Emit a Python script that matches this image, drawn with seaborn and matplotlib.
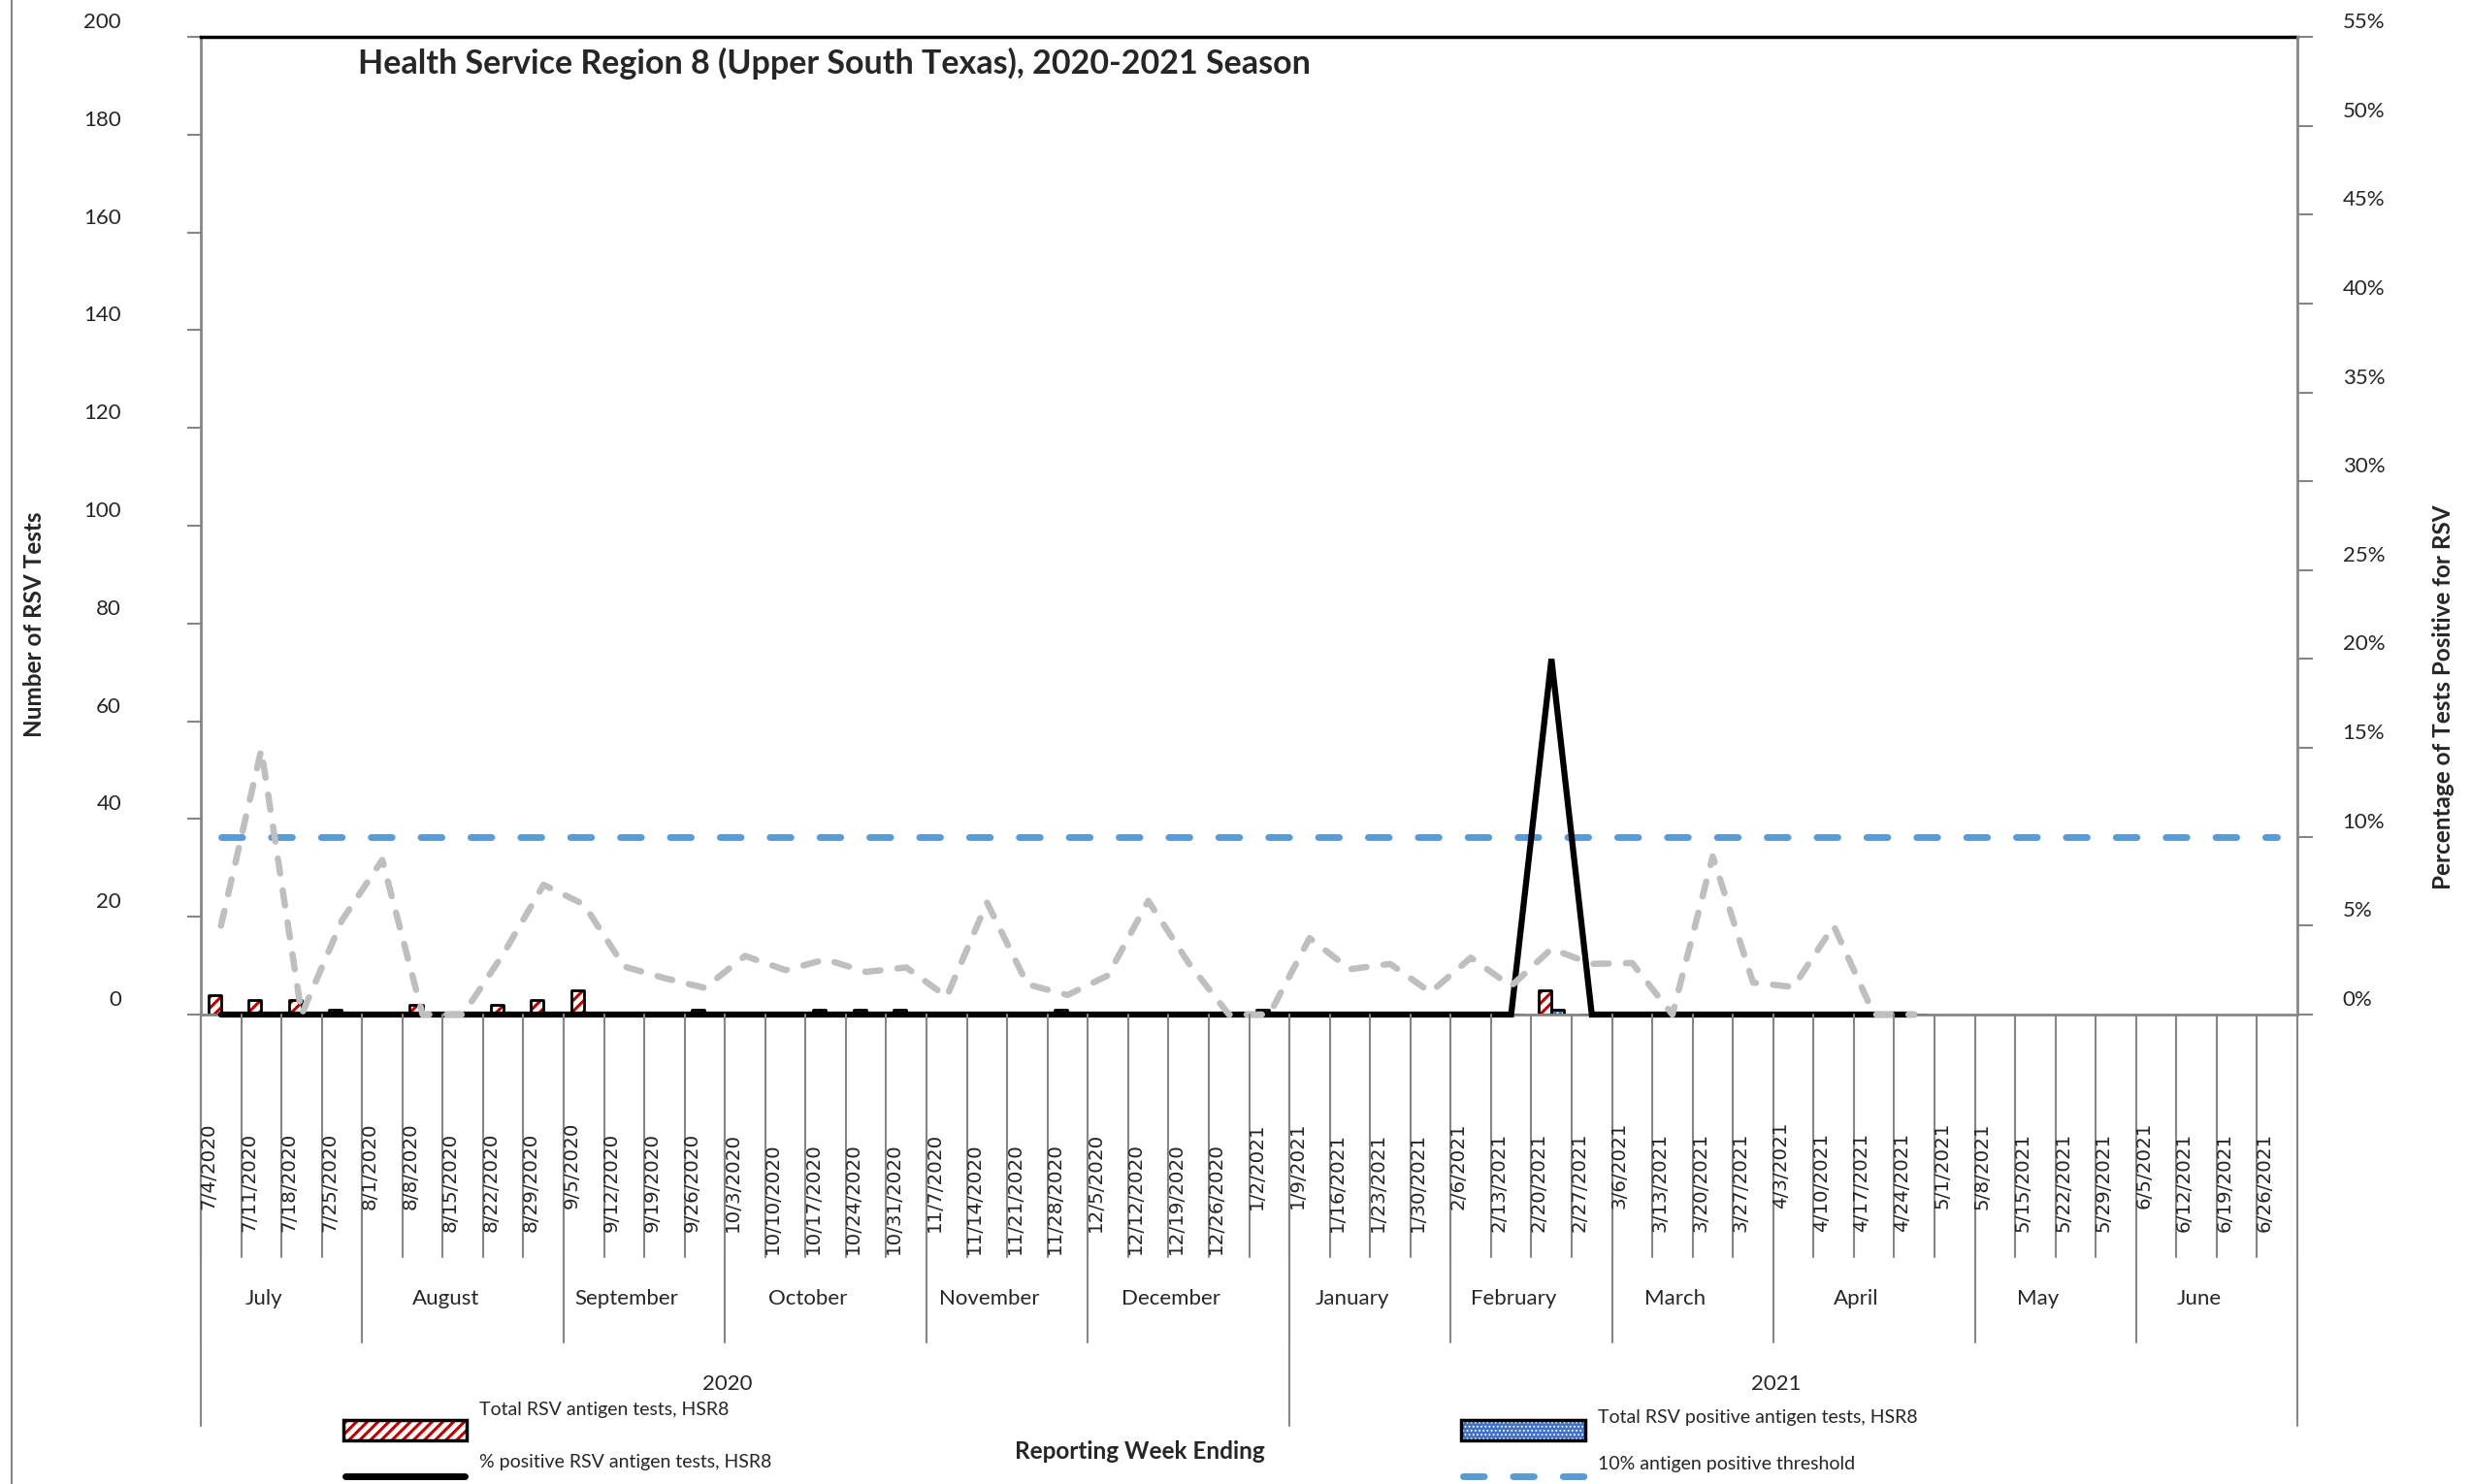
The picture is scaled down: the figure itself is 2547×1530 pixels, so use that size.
import matplotlib
matplotlib.use('Agg')
import matplotlib.pyplot as plt
import matplotlib.transforms as mtransforms
from matplotlib.patches import Rectangle
from matplotlib.lines import Line2D
import seaborn as sns
import pandas as pd

# --- data ---
weeks = ['7/4/2020', '7/11/2020', '7/18/2020', '7/25/2020', '8/1/2020', '8/8/2020',
         '8/15/2020', '8/22/2020', '8/29/2020', '9/5/2020', '9/12/2020', '9/19/2020',
         '9/26/2020', '10/3/2020', '10/10/2020', '10/17/2020', '10/24/2020', '10/31/2020',
         '11/7/2020', '11/14/2020', '11/21/2020', '11/28/2020', '12/5/2020', '12/12/2020',
         '12/19/2020', '12/26/2020', '1/2/2021', '1/9/2021', '1/16/2021', '1/23/2021',
         '1/30/2021', '2/6/2021', '2/13/2021', '2/20/2021', '2/27/2021', '3/6/2021',
         '3/13/2021', '3/20/2021', '3/27/2021', '4/3/2021', '4/10/2021', '4/17/2021',
         '4/24/2021', '5/1/2021', '5/8/2021', '5/15/2021', '5/22/2021', '5/29/2021',
         '6/5/2021', '6/12/2021', '6/19/2021', '6/26/2021']

months = ['July', 'August', 'September', 'October', 'November', 'December',
          'January', 'February', 'March', 'April', 'May', 'June']
month_weeks = [4, 5, 4, 5, 4, 5, 4, 4, 4, 5, 4, 4]
years = ['2020', '2021']
year_weeks = [27, 25]

# weeks reported so far (7/4/2020 - 4/24/2021)
total_tests = [4, 3, 3, 1, 0, 2, 0, 2, 3, 5, 0, 0, 1, 0, 0, 1, 1, 1, 0, 0, 0, 1,
               0, 0, 0, 0, 1, 0, 0, 0, 0, 0, 0, 5, 0, 0, 0, 0, 0, 0, 0, 0, 0]
positive_tests = [0, 0, 0, 0, 0, 0, 0, 0, 0, 0, 0, 0, 0, 0, 0, 0, 0, 0, 0, 0, 0, 0,
                  0, 0, 0, 0, 0, 0, 0, 0, 0, 0, 0, 1, 0, 0, 0, 0, 0, 0, 0, 0, 0]
pct_positive = [0, 0, 0, 0, 0, 0, 0, 0, 0, 0, 0, 0, 0, 0, 0, 0, 0, 0, 0, 0, 0, 0,
                0, 0, 0, 0, 0, 0, 0, 0, 0, 0, 0, 20, 0, 0, 0, 0, 0, 0, 0, 0, 0]
pct_gray = [5.0, 14.9, 0, 5.3, 8.7, 0, 0, 3.4, 7.3, 6.2, 2.7, 2.05, 1.5, 3.3, 2.5,
            3.1, 2.4, 2.65, 1.0, 6.3, 1.7, 1.1, 2.2, 6.4, 2.9, 0, 0, 4.3, 2.55, 2.85,
            1.25, 3.2, 1.6, 3.7, 2.85, 2.9, 0, 8.9, 1.8, 1.55, 5.0, 0, 0]
threshold = 10

left_ticks = [0, 20, 40, 60, 80, 100, 120, 140, 160, 180, 200]
right_ticks = [0, 5, 10, 15, 20, 25, 30, 35, 40, 45, 50, 55]

lab_total = 'Total RSV antigen tests, HSR8'
lab_pos = 'Total RSV positive antigen tests, HSR8'
lab_pct = '% positive RSV antigen tests, HSR8'
lab_thr = '10% antigen positive threshold'

RED = '#C00000'
BLUE = '#4472C4'
THR = '#5B9BD5'
GRAY = '#BFBFBF'
AXGRAY = '#868686'

sns.set_style('white')
plt.rcParams['font.family'] = ['Lato', 'DejaVu Sans']
plt.rcParams['hatch.linewidth'] = 2.2

W, H = 2547, 1530
fig = plt.figure(figsize=(W / 100, H / 100), dpi=100)


def fx(px):
    return px / W


def fy(px):
    return 1 - px / H


def thin_dots(patch):
    # the blue fill only has small white dots
    if hasattr(patch, 'set_hatch_linewidth'):
        patch.set_hatch_linewidth(0.8)


ax = fig.add_axes([fx(207), fy(1046), fx(2368) - fx(207), fy(38) - fy(1046)])

n = len(total_tests)
df = pd.DataFrame({
    'week': weeks[:n] * 2,
    'count': total_tests + positive_tests,
    'series': [lab_total] * n + [lab_pos] * n,
})
sns.barplot(data=df, x='week', y='count', hue='series', order=weeks,
            hue_order=[lab_total, lab_pos], palette=['white', BLUE], saturation=1,
            width=0.63, gap=0, errorbar=None, legend=False, ax=ax)

# hatch fills + black outlines like the Excel bars
for cont, face, hatch, hcol in [(ax.containers[0], 'white', '///', RED),
                                (ax.containers[1], BLUE, '...', 'white')]:
    for bar in cont:
        bar.set(facecolor=face, hatch=hatch, edgecolor=hcol, linewidth=0)
        if face == BLUE:
            thin_dots(bar)
        ax.add_patch(Rectangle(bar.get_xy(), bar.get_width(), bar.get_height(),
                               fill=False, edgecolor='black', linewidth=2,
                               joinstyle='round', zorder=bar.get_zorder() + 0.1))

ax2 = ax.twinx()
sns.lineplot(x=list(range(len(weeks))), y=[threshold] * len(weeks), ax=ax2,
             color=THR, linewidth=5)
sns.lineplot(x=list(range(n)), y=pct_positive, ax=ax2, color='black', linewidth=4.5)
sns.lineplot(x=list(range(n)), y=pct_gray, ax=ax2, color=GRAY, linewidth=4.7)
l_thr, l_pct, l_gray = ax2.lines[-3:]
l_thr.set_dashes((3.1, 4.3))
l_thr.set_dash_capstyle('round')
l_gray.set_dashes((2.4, 2.7))
l_gray.set_dash_capstyle('round')
l_pct.set_solid_joinstyle('miter')
l_pct.set_solid_capstyle('round')
for ln in (l_pct, l_gray):
    ln.set_clip_on(False)

ax.set_xlim(-0.5, len(weeks) - 0.5)
ax.set_ylim(0, 200)
ax2.set_ylim(0, 55)
ax.set_xlabel('')
ax.set_ylabel('')
ax2.set_ylabel('')

# spines
for s in ['left', 'bottom']:
    ax.spines[s].set(color=AXGRAY, linewidth=2)
ax.spines['top'].set(color='black', linewidth=2.5)
ax.spines['right'].set_visible(False)
for s in ['left', 'top', 'bottom']:
    ax2.spines[s].set_visible(False)
ax2.spines['right'].set(color=AXGRAY, linewidth=2)

ax.set_xticks(range(len(weeks)))
ax.tick_params(axis='x', length=0, labelbottom=False)
ax2.tick_params(axis='x', length=0, labelbottom=False)

ax.set_yticks(left_ticks)
ax.set_yticklabels([str(v) for v in left_ticks])
ax.tick_params(axis='y', direction='out', length=10, width=1.5, color=AXGRAY,
               pad=49, labelsize=16)
ax2.set_yticks(right_ticks)
ax2.set_yticklabels([f'{v}%' for v in right_ticks])
ax2.tick_params(axis='y', direction='out', length=11.5, width=1.5, color=AXGRAY,
                pad=22, labelsize=16)
# Excel prints the value labels a bit above their tick marks
up = mtransforms.ScaledTranslation(0, 17 / 100, fig.dpi_scale_trans)
for lab in ax.get_yticklabels() + ax2.get_yticklabels():
    lab.set_transform(lab.get_transform() + up)

# multi-level category axis: weeks / months / years
tx = mtransforms.blended_transform_factory(ax.transData, fig.transFigure)
for b in range(len(weeks) + 1):
    fig.add_artist(Line2D([b - 0.5, b - 0.5], [fy(1046), fy(1296)], transform=tx,
                          color=AXGRAY, linewidth=1.5))
for i, w in enumerate(weeks):
    # longer dates sit a little lower, as Excel drew them
    fig.text(i - 0.31, fy(1157 + 10.5 * (len(w) - 8)), w, transform=tx, rotation=90,
             ha='center', va='top', fontsize=14.3, family='DejaVu Sans')

shift = mtransforms.ScaledTranslation(-18 / 100, 0, fig.dpi_scale_trans)
start = 0
for name, cnt in zip(months, month_weeks):
    fig.add_artist(Line2D([start - 0.5, start - 0.5], [fy(1046), fy(1384)],
                          transform=tx, color=AXGRAY, linewidth=1.5))
    fig.text(start + cnt / 2 - 0.5, fy(1339), name, transform=tx + shift,
             ha='center', va='center', fontsize=16)
    start += cnt
start = 0
for name, cnt in zip(years, year_weeks):
    fig.add_artist(Line2D([start - 0.5, start - 0.5], [fy(1046), fy(1470)],
                          transform=tx, color=AXGRAY, linewidth=1.5))
    fig.text(start + cnt / 2 - 0.5, fy(1427), name, transform=tx + shift,
             ha='center', va='center', fontsize=16)
    start += cnt
fig.add_artist(Line2D([len(weeks) - 0.5] * 2, [fy(1046), fy(1470)], transform=tx,
                      color=AXGRAY, linewidth=1.5))

# titles and axis labels
ax.text((369 - 207) / 2161, (1046 - 65) / 1008,
        'Health Service Region 8 (Upper South Texas), 2020-2021 Season',
        transform=ax.transAxes, ha='left', va='center', fontsize=24.5, fontweight='bold')
fig.text(fx(36), fy(644), 'Number of RSV Tests', rotation=90, ha='center', va='center',
         fontsize=17.5, fontweight='bold')
fig.text(fx(2519), fy(719), 'Percentage of Tests Positive for RSV', rotation=90,
         ha='center', va='center', fontsize=17.5, fontweight='bold')
fig.text(fx(1175), fy(1497), 'Reporting Week Ending', ha='center', va='center',
         fontsize=17.5, fontweight='bold')

# legend, laid out the way Excel left it
fig.add_artist(Rectangle((fx(354), fy(1485)), fx(481) - fx(354), fy(1464) - fy(1485),
                         facecolor='white', hatch='///', edgecolor=RED, linewidth=0,
                         transform=fig.transFigure))
fig.add_artist(Rectangle((fx(354), fy(1485)), fx(481) - fx(354), fy(1464) - fy(1485),
                         fill=False, edgecolor='black', linewidth=2.5,
                         transform=fig.transFigure))
blue_leg = Rectangle((fx(1506), fy(1485)), fx(1634) - fx(1506), fy(1464) - fy(1485),
                     facecolor=BLUE, hatch='....', edgecolor='white', linewidth=0,
                     transform=fig.transFigure)
thin_dots(blue_leg)
fig.add_artist(blue_leg)
fig.add_artist(Rectangle((fx(1506), fy(1485)), fx(1634) - fx(1506), fy(1464) - fy(1485),
                         fill=False, edgecolor='black', linewidth=2.5,
                         transform=fig.transFigure))
fig.add_artist(Line2D([fx(356), fx(479)], [fy(1522), fy(1522)], color='black',
                      linewidth=5, solid_capstyle='round', transform=fig.transFigure))
thr_leg = Line2D([fx(1508), fx(1640)], [fy(1522), fy(1522)], color=THR, linewidth=5,
                 dash_capstyle='round', transform=fig.transFigure)
thr_leg.set_dashes((3.1, 4.3))
fig.add_artist(thr_leg)
fig.text(fx(494), fy(1454), lab_total, ha='left', va='center', fontsize=14)
fig.text(fx(494), fy(1508), lab_pct, ha='left', va='center', fontsize=14)
fig.text(fx(1647), fy(1461), lab_pos, ha='left', va='center', fontsize=14)
fig.text(fx(1647), fy(1510), lab_thr, ha='left', va='center', fontsize=14)

# outer chart-area edge on the far left
fig.add_artist(Line2D([fx(12), fx(12)], [0, 1], color=AXGRAY, linewidth=1.5))

fig.savefig('out.png', dpi=100)
